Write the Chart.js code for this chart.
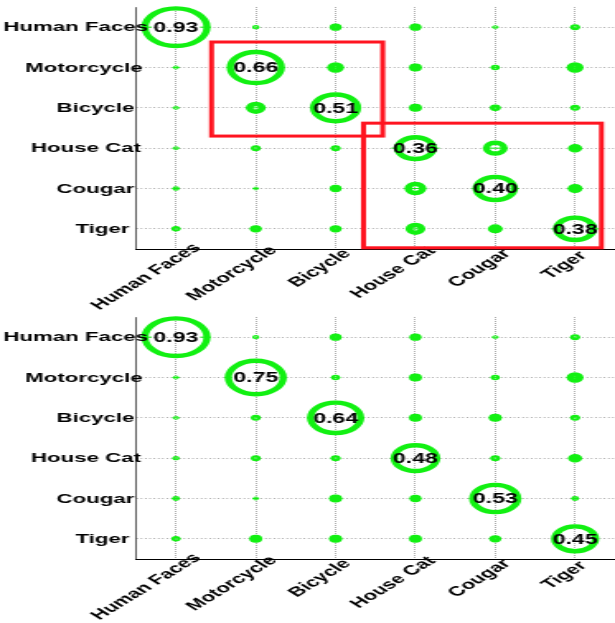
<!DOCTYPE html>
<html>
<head>
<meta charset="utf-8">
<script src="https://cdn.jsdelivr.net/npm/chart.js@4/dist/chart.umd.min.js"></script>
<style>
  html, body { margin: 0; padding: 0; background: #fff; }
  #wrap { position: relative; width: 615px; height: 623px; overflow: hidden; background: #fff; }
  /* each panel is drawn narrow and widened horizontally */
  .panel { position: absolute; left: 0; width: 373px; height: 310px; transform-origin: 0 0; transform: scaleX(1.6488); }
  .panel canvas { display: block; }
</style>
</head>
<body>
<div id="wrap">
  <div class="panel" style="top:0"><canvas id="c1" width="373" height="310"></canvas></div>
  <div class="panel" style="top:310px"><canvas id="c2" width="373" height="310"></canvas></div>
</div>
<script>
// class names, used for both axes
const classes = ['Human Faces', 'Motorcycle', 'Bicycle', 'House Cat', 'Cougar', 'Tiger'];

// confusion rates: rows = true class, columns = predicted class
const confusionTop = [
  [0.93,  0.010, 0.028, 0.028, 0.008, 0.019],
  [0.008, 0.66,  0.056, 0.033, 0.016, 0.056],
  [0.008, 0.077, 0.51,  0.033, 0.023, 0.019],
  [0.008, 0.019, 0.019, 0.36,  0.120, 0.038],
  [0.010, 0.007, 0.028, 0.093, 0.40,  0.043],
  [0.016, 0.028, 0.028, 0.077, 0.043, 0.38]
];
const confusionBottom = [
  [0.93,  0.009, 0.028, 0.028, 0.008, 0.019],
  [0.008, 0.75,  0.016, 0.033, 0.016, 0.056],
  [0.008, 0.019, 0.64,  0.033, 0.033, 0.019],
  [0.010, 0.019, 0.019, 0.48,  0.019, 0.038],
  [0.012, 0.008, 0.033, 0.028, 0.53,  0.012],
  [0.016, 0.033, 0.033, 0.033, 0.028, 0.45]
];

// highlighted groups of classes, in axis units: [xFrom, yFrom, xTo, yTo]
const groupsTop = [
  [1.446, 1.368, 3.59, 3.70],
  [3.35, 3.38, 6.33, 6.47]
];
const groupsBottom = [];

const GREEN = '#12f012';
const RED = '#ff1420';
const FONT = '"Liberation Sans", Arial, Helvetica, sans-serif';
const LABEL_FONT = 'bold 13.5px ' + FONT;
const VALUE_FONT = 'bold 14px ' + FONT;

// ring size grows with the square root of the rate
function outerRadius(v) { return 21.8 * Math.sqrt(v); }
function ringWidth(v) { const R = outerRadius(v); return Math.min(4.4, 0.24 * R * R); }

function toPoints(matrix) {
  const pts = [];
  matrix.forEach((row, i) => row.forEach((v, j) => {
    pts.push({ x: j + 1, y: i + 1, r: outerRadius(v) - ringWidth(v) / 2, v: v });
  }));
  return pts;
}

// class labels: each one sits about 4/5 of its width before its anchor
const LEAD = 0.7955;
function drawClassLabels(chart) {
  const ctx = chart.ctx;
  const xs = chart.scales.x, ys = chart.scales.y;
  ctx.save();
  ctx.font = LABEL_FONT;
  ctx.fillStyle = '#000';
  ctx.textAlign = 'left';
  ctx.textBaseline = 'middle';
  ys.ticks.forEach(t => {
    const txt = classes[t.value - 1];
    const w = ctx.measureText(txt).width;
    ctx.fillText(txt, xs.left - 10.6 - LEAD * w, ys.getPixelForValue(t.value) + 0.5);
  });
  xs.ticks.forEach(t => {
    const txt = classes[t.value - 1];
    const w = ctx.measureText(txt).width;
    ctx.save();
    ctx.translate(xs.getPixelForValue(t.value) + 0.4, ys.bottom + 9.5);
    ctx.rotate(-Math.PI / 4);
    ctx.fillText(txt, -LEAD * w, 0);
    ctx.restore();
  });
  ctx.restore();
}

const ringExtras = {
  id: 'ringExtras',
  afterDatasetsDraw(chart, args, opts) {
    const ctx = chart.ctx;
    const meta = chart.getDatasetMeta(0);
    const data = chart.data.datasets[0].data;
    ctx.save();
    ctx.font = VALUE_FONT;
    meta.data.forEach((el, k) => {
      const p = data[k];
      const R = outerRadius(p.v);
      const diag = p.x === p.y;
      const label = p.v.toFixed(2);
      const tw = diag ? ctx.measureText(label).width : 0;
      // thin seam through the middle of each ring
      ctx.strokeStyle = GREEN;
      ctx.lineWidth = 1;
      ctx.beginPath();
      if (diag) {
        ctx.moveTo(el.x - R, el.y); ctx.lineTo(el.x - tw / 2 - 1, el.y);
        ctx.moveTo(el.x + tw / 2 + 1, el.y); ctx.lineTo(el.x + R, el.y);
      } else {
        ctx.moveTo(el.x - R, el.y); ctx.lineTo(el.x + R, el.y);
      }
      ctx.stroke();
      if (diag) {
        ctx.fillStyle = '#000';
        ctx.textAlign = 'center';
        ctx.textBaseline = 'middle';
        ctx.fillText(label, el.x, el.y + 1);
      }
    });
    ctx.restore();

    drawClassLabels(chart);

    // group outlines
    const xs = chart.scales.x, ys = chart.scales.y;
    ctx.save();
    ctx.strokeStyle = RED;
    ctx.lineWidth = 3;
    (opts.groups || []).forEach(g => {
      const x0 = xs.getPixelForValue(g[0]), x1 = xs.getPixelForValue(g[2]);
      const y0 = ys.getPixelForValue(g[1]), y1 = ys.getPixelForValue(g[3]);
      ctx.strokeRect(x0, y0, x1 - x0, y1 - y0);
    });
    ctx.restore();
  }
};

function classTicks(scale) {
  scale.ticks = classes.map((_, i) => ({ value: i + 1 }));
}

function makeChart(id, matrix, groups) {
  return new Chart(document.getElementById(id), {
    type: 'bubble',
    data: {
      datasets: [{
        data: toPoints(matrix),
        backgroundColor: 'rgba(0,0,0,0)',
        borderColor: GREEN,
        borderWidth: c => ringWidth(c.raw.v),
        clip: false
      }]
    },
    options: {
      responsive: false,
      devicePixelRatio: 1,
      animation: false,
      events: [],
      layout: { autoPadding: false, padding: { top: 7, left: 0, right: 0, bottom: 0 } },
      plugins: { legend: { display: false }, tooltip: { enabled: false }, ringExtras: { groups: groups } },
      scales: {
        x: {
          type: 'linear', min: 0.5, max: 6.5,
          afterBuildTicks: classTicks,
          afterFit: s => { s.height = 61; },
          ticks: { display: false },
          grid: { color: '#8c8c8c', lineWidth: 0.7, drawTicks: false },
          border: { color: '#000', width: 1, dash: [1, 1] }
        },
        y: {
          type: 'linear', min: 0.5, max: 6.5, reverse: true,
          afterBuildTicks: classTicks,
          afterFit: s => { s.width = 82.5; },
          ticks: { display: false },
          grid: { color: '#9a9a9a', lineWidth: 1, drawTicks: false },
          border: { color: '#000', width: 0.65, dash: [0.8, 1.8] }
        }
      }
    },
    plugins: [ringExtras]
  });
}

makeChart('c1', confusionTop, groupsTop);
makeChart('c2', confusionBottom, groupsBottom);
</script>
</body>
</html>
